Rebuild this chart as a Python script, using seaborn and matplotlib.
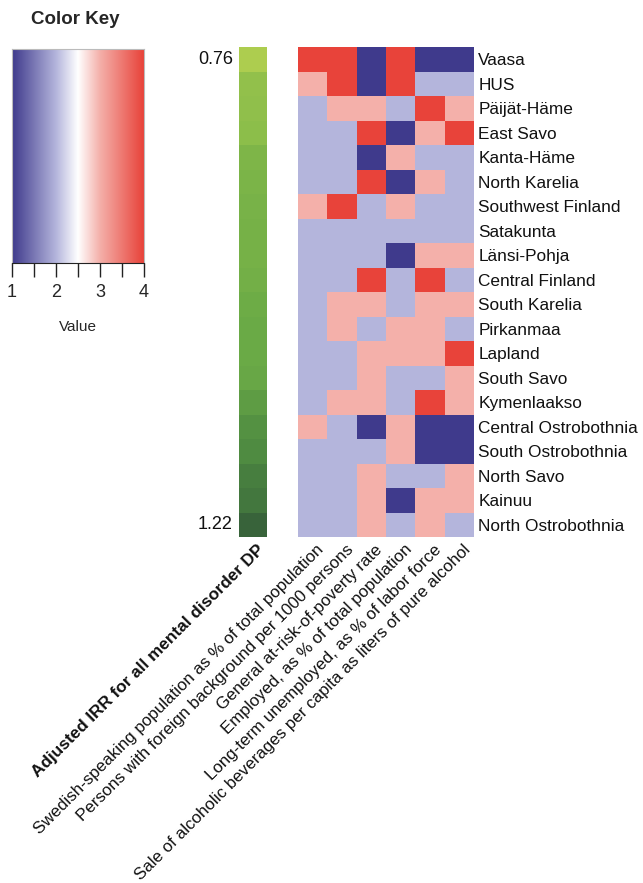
import numpy as np
import pandas as pd
import matplotlib
matplotlib.use("Agg")
import matplotlib.pyplot as plt
from matplotlib.colors import LinearSegmentedColormap
from matplotlib.transforms import ScaledTranslation
import seaborn as sns

sns.set_style("white")
plt.rcParams["font.family"] = ["Liberation Sans", "DejaVu Sans"]

regions = ["Vaasa", "HUS", "Päijät-Häme", "East Savo", "Kanta-Häme",
           "North Karelia", "Southwest Finland", "Satakunta", "Länsi-Pohja",
           "Central Finland", "South Karelia", "Pirkanmaa", "Lapland",
           "South Savo", "Kymenlaakso", "Central Ostrobothnia",
           "South Ostrobothnia", "North Savo", "Kainuu", "North Ostrobothnia"]

indicators = ["Swedish-speaking population as % of total population",
              "Persons with foreign background per 1000 persons",
              "General at-risk-of-poverty rate",
              "Employed, as % of total population",
              "Long-term unemployed, as % of labor force",
              "Sale of alcoholic beverages per capita as liters of pure alcohol"]

# quartile (1-4) of each indicator per hospital district
swedish    = [4, 3, 2, 2, 2, 2, 3, 2, 2, 2, 2, 2, 2, 2, 2, 3, 2, 2, 2, 2]
foreign    = [4, 4, 3, 2, 2, 2, 4, 2, 2, 2, 3, 3, 2, 2, 3, 2, 2, 2, 2, 2]
poverty    = [1, 1, 3, 4, 1, 4, 2, 2, 2, 4, 3, 2, 3, 3, 3, 1, 2, 3, 3, 3]
employed   = [4, 4, 2, 1, 3, 1, 3, 2, 1, 2, 2, 3, 3, 2, 2, 3, 3, 2, 1, 2]
unemployed = [1, 2, 4, 3, 2, 3, 2, 2, 3, 4, 3, 3, 3, 2, 4, 1, 1, 2, 3, 3]
alcohol    = [1, 2, 3, 4, 2, 2, 2, 2, 3, 2, 3, 2, 4, 3, 3, 1, 1, 3, 3, 2]

irr_label = "Adjusted IRR for all mental disorder DP"
irr = [0.76, 0.85, 0.86, 0.87, 0.92, 0.93, 0.94, 0.95, 0.95, 0.96,
       0.98, 0.99, 0.99, 1.00, 1.04, 1.08, 1.10, 1.14, 1.16, 1.22]

quart = pd.DataFrame(
    np.column_stack([swedish, foreign, poverty, employed, unemployed, alcohol]),
    index=regions, columns=indicators)
irr_df = pd.DataFrame({irr_label: irr}, index=regions)

bwr = LinearSegmentedColormap.from_list(
    "bwr_key",
    [(0.0, "#3f3a8c"), (1 / 3, "#b4b5dc"), (0.5, "#ffffff"),
     (2 / 3, "#f4b0aa"), (1.0, "#e8433a")])
greens = LinearSegmentedColormap.from_list(
    "irr_greens", ["#adcd4f", "#8bbd4a", "#6aaa46", "#4e8a41", "#38633a"])

W, H = 643, 883
fig = plt.figure(figsize=(W / 100, H / 100), dpi=100)


def px_axes(x0, y0, x1, y1):
    return fig.add_axes([x0 / W, 1 - y1 / H, (x1 - x0) / W, (y1 - y0) / H])


# main heatmap
ax = px_axes(298, 47, 474, 537)
sns.heatmap(quart, ax=ax, cmap=bwr, vmin=1, vmax=4, cbar=False)
ax.yaxis.tick_right()
ax.set_yticks(np.arange(len(regions)) + 0.5)
ax.set_yticklabels(regions, rotation=0, fontsize=12.4, color="#111111")
ax.set_xticks(np.arange(len(indicators)) + 0.5)
ax.set_xticklabels(indicators, rotation=45, ha="right", va="center",
                   rotation_mode="anchor", fontsize=12.2, color="#111111")
ax.tick_params(axis="both", length=0, pad=3)
ax.set_xlabel("")
ax.set_ylabel("")
off = ScaledTranslation(9 / 100, -6 / 100, fig.dpi_scale_trans)
for t in ax.get_xticklabels():
    t.set_transform(t.get_transform() + off)

# IRR side bar
axg = px_axes(239, 47, 267, 537)
sns.heatmap(irr_df, ax=axg, cmap=greens, vmin=min(irr), vmax=max(irr),
            cbar=False)
axg.set_yticks([0.5, len(irr) - 0.5])
axg.set_yticklabels([f"{irr[0]:.2f}", f"{irr[-1]:.2f}"], rotation=0,
                    fontsize=13, color="#111111")
axg.set_xticks([0.5])
axg.set_xticklabels([irr_label], rotation=45, ha="right", va="center",
                    rotation_mode="anchor", fontsize=12.3, fontweight="bold",
                    color="#111111")
axg.tick_params(axis="both", length=0, pad=3)
axg.set_xlabel("")
axg.set_ylabel("")
for t in axg.get_xticklabels():
    t.set_transform(t.get_transform() + off)
for t in axg.get_yticklabels():
    t.set_transform(t.get_transform() + ScaledTranslation(-2 / 100, 0, fig.dpi_scale_trans))

# color key
axk = px_axes(12, 49, 144, 263)
grad = np.linspace(1, 4, 256)
axk.imshow(grad[np.newaxis, :], cmap=bwr, vmin=1, vmax=4, aspect="auto",
           extent=[1, 4, 0, 1])
axk.set_xlim(1, 4)
axk.set_ylim(0, 1)
axk.set_yticks([])
axk.set_xticks([1, 1.5, 2, 2.5, 3, 3.5, 4])
axk.set_xticklabels(["1", "", "2", "", "3", "", "4"], fontsize=13)
axk.tick_params(axis="x", direction="out", length=10, width=1,
                color="#222222", pad=5, bottom=True)
for s in ["top", "left", "right"]:
    axk.spines[s].set_color("#bbbbbb")
    axk.spines[s].set_linewidth(0.8)
axk.spines["bottom"].set_color("#222222")
axk.set_xlabel("Value", fontsize=11, labelpad=14)
fig.text(75 / W, 1 - 20 / H, "Color Key", ha="center", va="center",
         fontsize=13.5, fontweight="bold")

fig.savefig("out.png", dpi=100)
